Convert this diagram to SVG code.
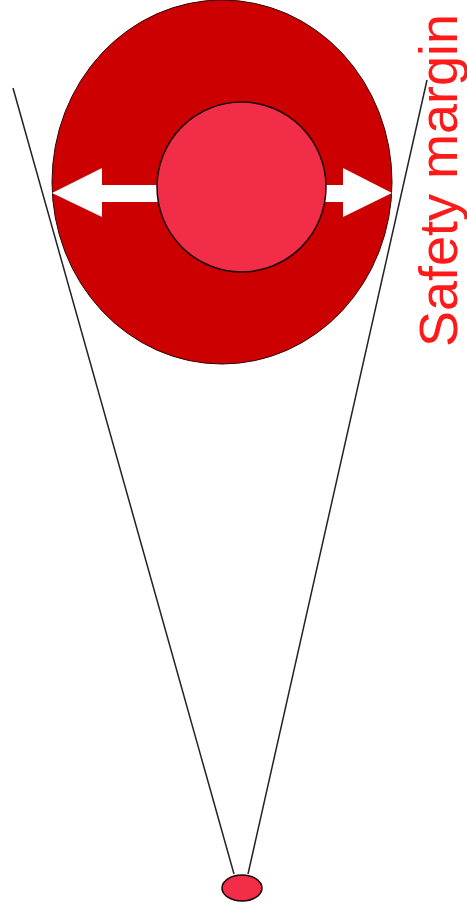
<svg xmlns="http://www.w3.org/2000/svg" width="467" height="915" viewBox="0 0 467 915">
<style>
.ln{stroke:#222;stroke-width:1.5;fill:none}
.arr{fill:#fff;stroke:none}
.lbl{font-family:"Liberation Sans",Arial,sans-serif;font-size:54px;fill:#ff1a1a}
</style>
<rect width="467" height="915" fill="#fff"/>
<g id="connectors">
<line class="ln" x1="13" y1="88" x2="234" y2="874"/>
<line class="ln" x1="427" y1="80" x2="248" y2="874"/>
</g>
<g id="safety-zone">
<ellipse cx="222" cy="182" rx="170" ry="182" fill="#cc0000" stroke="#330000" stroke-width="1"/>
</g>
<g id="arrows">
<polygon class="arr" points="52,193 102,168 102,185 160,185 160,202 102,202 102,217"/>
<polygon class="arr" points="392,193 343,168 343,185 322,185 322,202 343,202 343,217"/>
</g>
<g id="object">
<ellipse cx="241.5" cy="187" rx="84.5" ry="85" fill="#f22d47" stroke="#1a0000" stroke-width="1.5"/>
</g>
<g id="origin">
<ellipse cx="242" cy="888" rx="20" ry="13" fill="#f22d47" stroke="#1a0000" stroke-width="1.5"/>
</g>
<g id="label">
<text class="lbl" transform="translate(457,347) rotate(-90)">Safety margin</text>
</g>
</svg>
